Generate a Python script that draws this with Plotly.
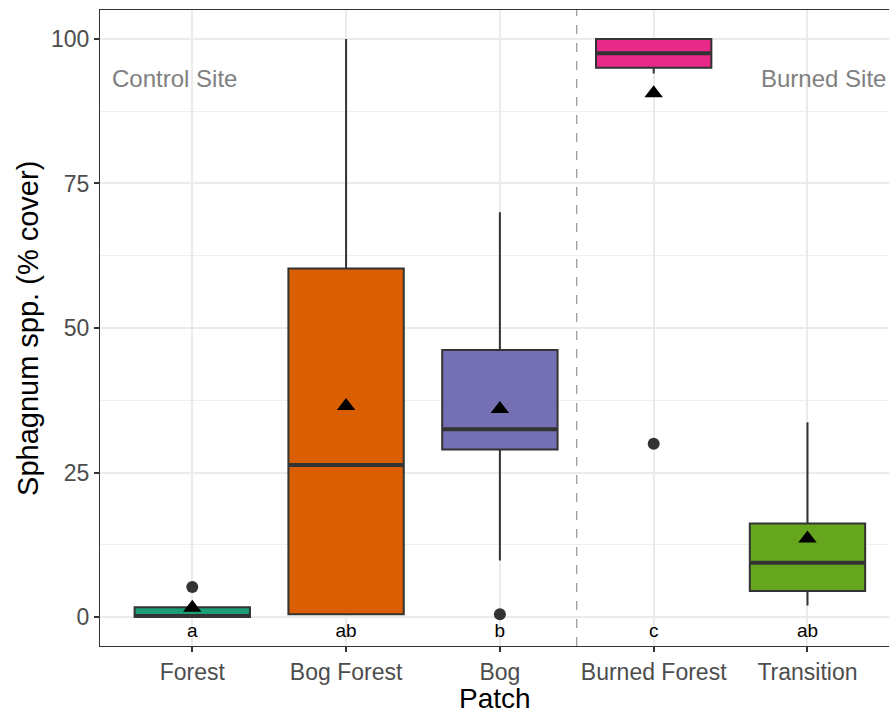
import plotly.graph_objects as go

categories = ["Forest", "Bog Forest", "Bog", "Burned Forest", "Transition"]
colors = ["#1B9E77", "#D95F02", "#7570B3", "#E7298A", "#66A61E"]
q1 = [0.0, 0.5, 29.0, 95.0, 4.5]
median = [0.2, 26.3, 32.5, 97.5, 9.4]
q3 = [1.7, 60.3, 46.2, 100.0, 16.2]
lower_whisker = [0.0, 0.5, 9.8, 94.0, 2.0]
upper_whisker = [1.7, 100.0, 70.0, 100.0, 33.7]
means = [1.6, 36.5, 36.0, 90.6, 13.6]
outlier_cat = [0, 2, 3]
outlier_val = [5.2, 0.5, 30.0]
letters = ["a", "ab", "b", "c", "ab"]
y_ticks = [0, 25, 50, 75, 100]
y_minor = [12.5, 37.5, 62.5, 87.5]

FONT = "Arial, Liberation Sans, sans-serif"
BOXW = 0.75

fig = go.Figure()
for i, c in enumerate(categories):
    fig.add_trace(go.Box(
        x=[i], q1=[q1[i]], median=[median[i]], q3=[q3[i]],
        lowerfence=[lower_whisker[i]], upperfence=[upper_whisker[i]],
        fillcolor=colors[i], line=dict(color="#333333", width=2),
        whiskerwidth=0,
        width=BOXW, boxpoints=False, showlegend=False, hoverinfo="skip",
    ))
    # thicker median line (ggplot fatten)
    fig.add_trace(go.Scatter(
        x=[i - BOXW / 2 + 0.005, i + BOXW / 2 - 0.005], y=[median[i], median[i]],
        mode="lines", line=dict(color="#333333", width=4),
        showlegend=False, hoverinfo="skip",
    ))

fig.add_trace(go.Scatter(
    x=outlier_cat, y=outlier_val, mode="markers",
    marker=dict(color="#333333", size=12, symbol="circle"),
    showlegend=False,
))
fig.add_trace(go.Scatter(
    x=list(range(len(categories))), y=means, mode="markers",
    marker=dict(color="black", size=16, symbol="triangle-up"),
    showlegend=False,
))
fig.add_trace(go.Scatter(
    x=list(range(len(categories))), y=[-2.6] * len(categories),
    mode="text", text=letters,
    textfont=dict(family=FONT, size=19, color="black"),
    showlegend=False,
))

fig.add_shape(type="line", x0=2.5, x1=2.5, y0=0, y1=1, xref="x", yref="paper",
              line=dict(color="#808080", width=1, dash="dash"))

fig.add_annotation(x=-0.535, y=93.1, xref="x", yref="y", text="Control Site",
                   showarrow=False, xanchor="left",
                   font=dict(family=FONT, size=24, color="#808080"))
fig.add_annotation(x=1, y=93.1, xref="paper", yref="y", text="Burned Site",
                   showarrow=False, xanchor="right", xshift=-1,
                   font=dict(family=FONT, size=24, color="#808080"))

# axis titles
fig.add_annotation(x=0.5, y=-0.083, xref="paper", yref="paper", text="Patch",
                   showarrow=False, xanchor="center", yanchor="middle",
                   font=dict(family=FONT, size=28, color="black"))
fig.add_annotation(x=-0.0913, y=0.5, xref="paper", yref="paper",
                   text="Sphagnum spp. (% cover)", textangle=-90,
                   showarrow=False, xanchor="center", yanchor="middle",
                   font=dict(family=FONT, size=29, color="black"))

fig.update_layout(
    width=889, height=713,
    margin=dict(l=100, r=0, t=10, b=67, autoexpand=False),
    paper_bgcolor="white", plot_bgcolor="white",
    font=dict(family=FONT),
    xaxis=dict(
        range=[-0.6, 4.53], tickvals=list(range(len(categories))), ticktext=categories,
        showgrid=True, gridcolor="#EBEBEB", gridwidth=1.5, zeroline=False,
        showline=True, linecolor="#333333", linewidth=1, mirror=True,
        ticks="outside", ticklen=5, tickcolor="#333333", tickwidth=1.5,
        tickfont=dict(size=23, color="#4D4D4D"), automargin=False,
    ),
    yaxis=dict(
        range=[-5, 105], tickvals=y_ticks,
        showgrid=True, gridcolor="#EBEBEB", gridwidth=1.5, zeroline=False,
        minor=dict(tickvals=y_minor, showgrid=True,
                   gridcolor="#EFEFEF", gridwidth=1),
        showline=True, linecolor="#333333", linewidth=1,
        ticks="outside", ticklen=5, tickcolor="#333333", tickwidth=1.5,
        tickfont=dict(size=23, color="#4D4D4D"), automargin=False,
    ),
)

fig.write_html(
    "out.html",
    config={"displayModeBar": False},
    post_script="document.body.style.margin='0';document.body.style.overflow='hidden';",
)
